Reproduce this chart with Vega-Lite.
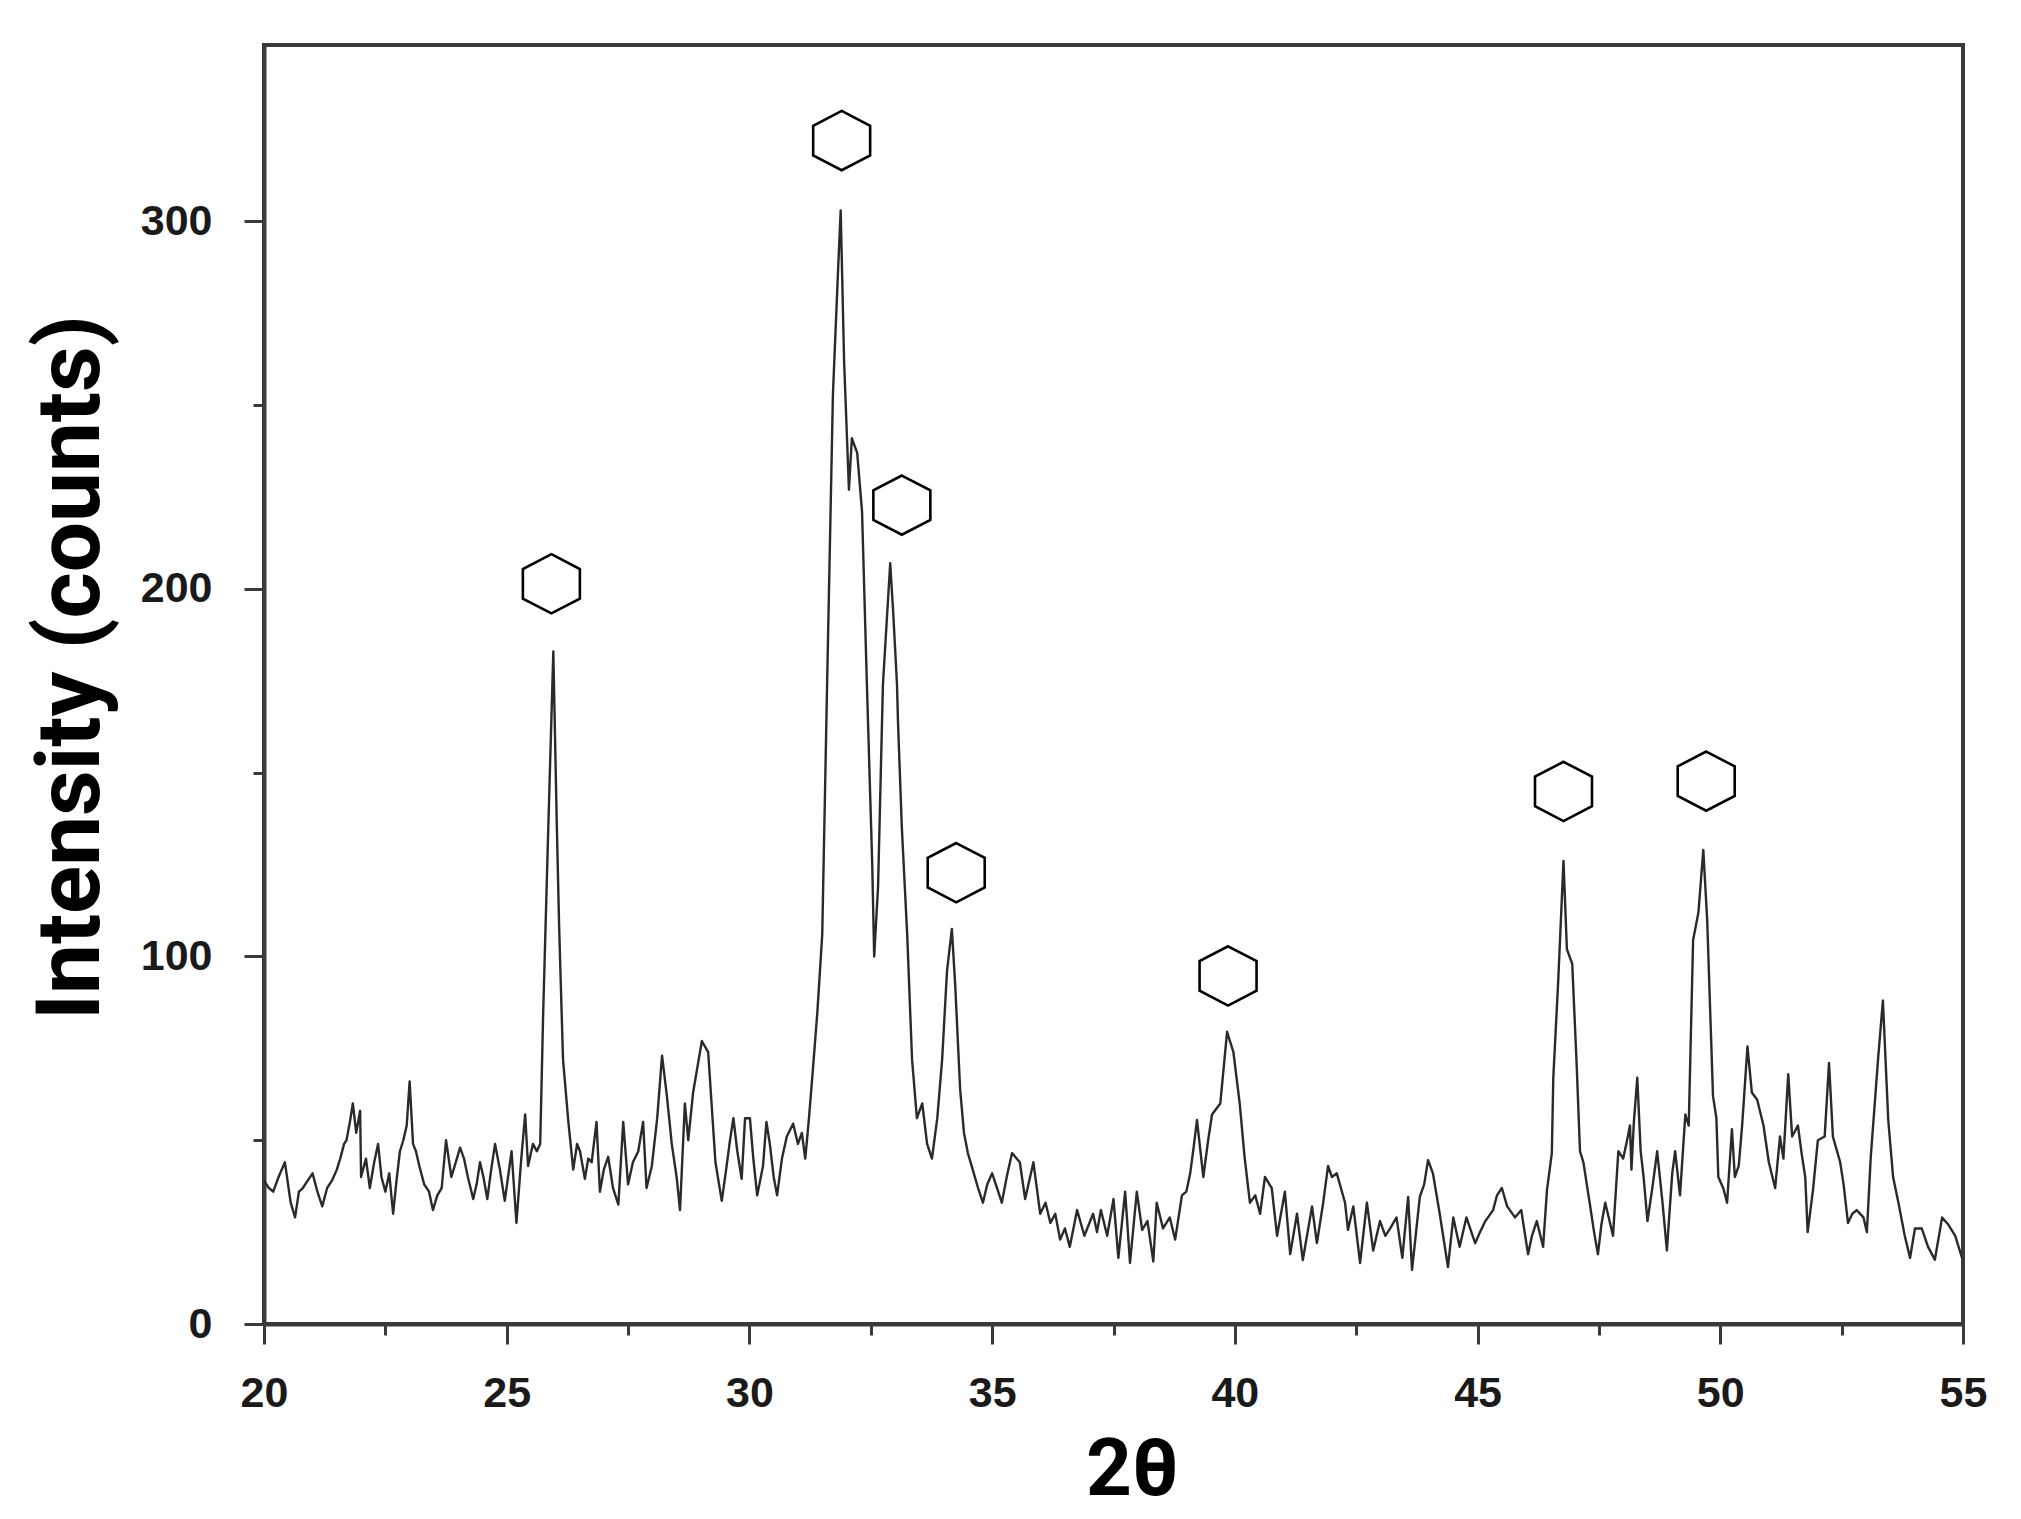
{
  "$schema": "https://vega.github.io/schema/vega-lite/v6.json",
  "autosize": {"type": "none"},
  "padding": {"left": 264, "top": 45, "right": 58, "bottom": 195},
  "width": 1699,
  "height": 1279,
  "background": "white",
  "config": {
    "view": {"stroke": "#3a3a3a", "strokeWidth": 4},
    "axis": {
      "domainColor": "#3a3a3a",
      "domainWidth": 4,
      "tickColor": "#3a3a3a",
      "tickWidth": 3,
      "grid": false,
      "labelFont": "Liberation Sans",
      "labelFontWeight": "bold",
      "labelFontSize": 43,
      "labelColor": "#1a1a1a",
      "titleFont": "Roboto",
      "titleFontWeight": "bold",
      "titleColor": "#000000"
    }
  },
  "datasets": {
    "xrd": [
      {"t":20.0,"i":39},{"t":20.1,"i":37},{"t":20.19,"i":36},{"t":20.3,"i":40},{"t":20.43,"i":44},{"t":20.55,"i":33},{"t":20.64,"i":29},{"t":20.72,"i":36},{"t":20.8,"i":37},{"t":20.9,"i":39},
      {"t":21.0,"i":41},{"t":21.1,"i":36},{"t":21.2,"i":32},{"t":21.3,"i":37},{"t":21.4,"i":39},{"t":21.5,"i":42},{"t":21.57,"i":45},{"t":21.65,"i":49},{"t":21.7,"i":50},{"t":21.77,"i":55},
      {"t":21.83,"i":60},{"t":21.9,"i":52},{"t":21.98,"i":58},{"t":22.0,"i":40},{"t":22.1,"i":45},{"t":22.18,"i":37},{"t":22.27,"i":44},{"t":22.35,"i":49},{"t":22.42,"i":40},{"t":22.5,"i":36},
      {"t":22.58,"i":41},{"t":22.66,"i":30},{"t":22.73,"i":39},{"t":22.8,"i":47},{"t":22.87,"i":50},{"t":22.94,"i":54},{"t":23.0,"i":66},{"t":23.07,"i":49},{"t":23.13,"i":47},{"t":23.2,"i":43},
      {"t":23.3,"i":38},{"t":23.4,"i":36},{"t":23.48,"i":31},{"t":23.57,"i":35},{"t":23.66,"i":37},{"t":23.75,"i":50},{"t":23.86,"i":40},{"t":23.95,"i":44},{"t":24.04,"i":48},{"t":24.12,"i":45},
      {"t":24.2,"i":40},{"t":24.31,"i":34},{"t":24.38,"i":38},{"t":24.45,"i":44},{"t":24.52,"i":40},{"t":24.6,"i":34},{"t":24.68,"i":42},{"t":24.76,"i":49},{"t":24.86,"i":42},{"t":24.96,"i":33.5},
      {"t":25.1,"i":47},{"t":25.2,"i":27.5},{"t":25.3,"i":45},{"t":25.38,"i":57},{"t":25.44,"i":43},{"t":25.54,"i":49},{"t":25.62,"i":47},{"t":25.69,"i":49},{"t":25.75,"i":84},{"t":25.85,"i":132},
      {"t":25.96,"i":183},{"t":26.03,"i":137},{"t":26.08,"i":108},{"t":26.16,"i":72},{"t":26.27,"i":55},{"t":26.37,"i":42},{"t":26.45,"i":49},{"t":26.51,"i":47},{"t":26.61,"i":39.5},{"t":26.68,"i":45},
      {"t":26.75,"i":44},{"t":26.85,"i":55},{"t":26.92,"i":36},{"t":27.0,"i":42},{"t":27.09,"i":45.5},{"t":27.19,"i":37},{"t":27.3,"i":32.5},{"t":27.4,"i":55},{"t":27.5,"i":38},{"t":27.6,"i":44},
      {"t":27.71,"i":47},{"t":27.81,"i":55},{"t":27.88,"i":37},{"t":27.99,"i":43},{"t":28.1,"i":56},{"t":28.2,"i":73},{"t":28.3,"i":62},{"t":28.4,"i":49},{"t":28.5,"i":40},{"t":28.57,"i":31},
      {"t":28.67,"i":60},{"t":28.74,"i":50},{"t":28.84,"i":63},{"t":28.93,"i":70},{"t":29.02,"i":77},{"t":29.15,"i":74},{"t":29.22,"i":60},{"t":29.3,"i":44},{"t":29.43,"i":33.5},{"t":29.52,"i":42},
      {"t":29.6,"i":50},{"t":29.67,"i":56},{"t":29.75,"i":47},{"t":29.84,"i":39.5},{"t":29.91,"i":56},{"t":30.01,"i":56},{"t":30.08,"i":45},{"t":30.16,"i":35},{"t":30.28,"i":43},{"t":30.35,"i":55},
      {"t":30.42,"i":49},{"t":30.5,"i":40},{"t":30.57,"i":35},{"t":30.67,"i":45},{"t":30.77,"i":51},{"t":30.9,"i":54.5},{"t":31.0,"i":49},{"t":31.08,"i":52},{"t":31.15,"i":45},{"t":31.22,"i":55},
      {"t":31.3,"i":68},{"t":31.4,"i":85},{"t":31.5,"i":106},{"t":31.6,"i":174},{"t":31.72,"i":253},{"t":31.83,"i":288},{"t":31.88,"i":303},{"t":31.95,"i":262},{"t":32.05,"i":227},{"t":32.11,"i":241},
      {"t":32.22,"i":237},{"t":32.32,"i":221},{"t":32.42,"i":174},{"t":32.53,"i":125},{"t":32.57,"i":100},{"t":32.65,"i":119},{"t":32.75,"i":174},{"t":32.9,"i":207},{"t":32.96,"i":194},{"t":33.04,"i":174},
      {"t":33.06,"i":164},{"t":33.14,"i":135},{"t":33.25,"i":106},{"t":33.35,"i":72},{"t":33.45,"i":56},{"t":33.56,"i":60},{"t":33.66,"i":49},{"t":33.76,"i":45},{"t":33.87,"i":56},{"t":33.97,"i":72},
      {"t":34.07,"i":96},{"t":34.17,"i":107.5},{"t":34.24,"i":92},{"t":34.34,"i":64},{"t":34.42,"i":52},{"t":34.5,"i":46.5},{"t":34.6,"i":42},{"t":34.71,"i":37},{"t":34.81,"i":33},{"t":34.9,"i":38},
      {"t":35.0,"i":41},{"t":35.2,"i":33},{"t":35.3,"i":40},{"t":35.41,"i":46.5},{"t":35.57,"i":44},{"t":35.68,"i":34},{"t":35.85,"i":44},{"t":35.99,"i":30},{"t":36.1,"i":33},{"t":36.2,"i":27.5},
      {"t":36.3,"i":30},{"t":36.4,"i":23},{"t":36.5,"i":26},{"t":36.6,"i":21},{"t":36.75,"i":31},{"t":36.9,"i":24},{"t":37.08,"i":30},{"t":37.16,"i":25},{"t":37.24,"i":31},{"t":37.37,"i":24},
      {"t":37.5,"i":34},{"t":37.6,"i":18},{"t":37.74,"i":36},{"t":37.84,"i":16.6},{"t":37.98,"i":36},{"t":38.09,"i":25.6},{"t":38.2,"i":28},{"t":38.32,"i":17},{"t":38.39,"i":33},{"t":38.52,"i":26},
      {"t":38.66,"i":29},{"t":38.77,"i":23},{"t":38.91,"i":35},{"t":39.0,"i":36},{"t":39.08,"i":41},{"t":39.15,"i":48},{"t":39.22,"i":55.5},{"t":39.35,"i":40},{"t":39.45,"i":50},{"t":39.53,"i":57},
      {"t":39.7,"i":60},{"t":39.84,"i":79.5},{"t":39.97,"i":74},{"t":40.1,"i":60},{"t":40.2,"i":45.5},{"t":40.31,"i":33},{"t":40.42,"i":35},{"t":40.52,"i":30},{"t":40.62,"i":40},{"t":40.76,"i":37},
      {"t":40.87,"i":24},{"t":41.03,"i":36},{"t":41.14,"i":19},{"t":41.28,"i":30},{"t":41.4,"i":17.4},{"t":41.59,"i":32},{"t":41.69,"i":22},{"t":41.82,"i":33},{"t":41.92,"i":43},{"t":42.0,"i":40},
      {"t":42.1,"i":41},{"t":42.27,"i":33},{"t":42.33,"i":25.6},{"t":42.44,"i":32},{"t":42.58,"i":16.6},{"t":42.72,"i":33},{"t":42.85,"i":20},{"t":42.99,"i":28},{"t":43.1,"i":24},{"t":43.2,"i":26},
      {"t":43.33,"i":29},{"t":43.45,"i":18},{"t":43.57,"i":34.6},{"t":43.65,"i":14.7},{"t":43.81,"i":34.6},{"t":43.9,"i":38},{"t":43.98,"i":44.6},{"t":44.08,"i":41},{"t":44.22,"i":30},{"t":44.39,"i":15.5},
      {"t":44.5,"i":29},{"t":44.63,"i":21},{"t":44.77,"i":29},{"t":44.95,"i":22},{"t":45.05,"i":25},{"t":45.16,"i":28},{"t":45.32,"i":31},{"t":45.4,"i":35},{"t":45.5,"i":37},{"t":45.61,"i":32},
      {"t":45.77,"i":29},{"t":45.9,"i":31},{"t":46.04,"i":19},{"t":46.12,"i":24},{"t":46.22,"i":28},{"t":46.35,"i":21},{"t":46.43,"i":36.5},{"t":46.53,"i":46.5},{"t":46.56,"i":67},{"t":46.66,"i":93},
      {"t":46.77,"i":126},{"t":46.84,"i":102},{"t":46.95,"i":98},{"t":47.04,"i":71},{"t":47.11,"i":47},{"t":47.18,"i":44},{"t":47.32,"i":32},{"t":47.4,"i":25},{"t":47.48,"i":19},{"t":47.55,"i":27},
      {"t":47.63,"i":33},{"t":47.79,"i":24},{"t":47.9,"i":47},{"t":48.0,"i":45},{"t":48.08,"i":50},{"t":48.14,"i":54},{"t":48.17,"i":42},{"t":48.22,"i":55},{"t":48.29,"i":67},{"t":48.36,"i":47},
      {"t":48.42,"i":40},{"t":48.5,"i":28},{"t":48.6,"i":37},{"t":48.7,"i":47},{"t":48.81,"i":33},{"t":48.9,"i":20},{"t":49.01,"i":41},{"t":49.07,"i":47},{"t":49.17,"i":35},{"t":49.28,"i":57},
      {"t":49.35,"i":54},{"t":49.44,"i":104.5},{"t":49.55,"i":112},{"t":49.65,"i":129},{"t":49.73,"i":110},{"t":49.85,"i":62},{"t":49.92,"i":56},{"t":49.96,"i":40},{"t":50.06,"i":37},{"t":50.14,"i":33},
      {"t":50.24,"i":53},{"t":50.3,"i":40},{"t":50.38,"i":43},{"t":50.45,"i":54},{"t":50.56,"i":75.5},{"t":50.65,"i":63},{"t":50.76,"i":61},{"t":50.89,"i":54},{"t":51.0,"i":44},{"t":51.13,"i":37},
      {"t":51.23,"i":51},{"t":51.3,"i":45},{"t":51.4,"i":68},{"t":51.48,"i":51},{"t":51.6,"i":54},{"t":51.68,"i":46},{"t":51.75,"i":40},{"t":51.8,"i":25},{"t":51.91,"i":36.5},{"t":52.01,"i":50},
      {"t":52.15,"i":51},{"t":52.24,"i":71},{"t":52.32,"i":51},{"t":52.47,"i":44},{"t":52.54,"i":38},{"t":52.63,"i":27.5},{"t":52.72,"i":30},{"t":52.81,"i":31},{"t":52.95,"i":29},{"t":53.02,"i":25},
      {"t":53.1,"i":45.5},{"t":53.25,"i":72},{"t":53.35,"i":88},{"t":53.46,"i":55.5},{"t":53.56,"i":40},{"t":53.67,"i":33},{"t":53.8,"i":24},{"t":53.91,"i":18},{"t":54.01,"i":26},{"t":54.15,"i":26},
      {"t":54.28,"i":21},{"t":54.42,"i":17.5},{"t":54.57,"i":29},{"t":54.7,"i":27},{"t":54.84,"i":24},{"t":54.98,"i":18}
    ],
    "marks": [
      {"t":25.92,"i":201.4},{"t":31.9,"i":322},{"t":33.14,"i":222.8},{"t":34.26,"i":122.8},{"t":39.86,"i":94.7},{"t":46.77,"i":144.9},{"t":49.71,"i":147.7}
    ]
  },
  "layer": [
    {
      "data": {"name": "xrd"},
      "mark": {"type": "line", "stroke": "#2a2a2a", "strokeWidth": 2.4, "strokeJoin": "round", "clip": true},
      "encoding": {
        "x": {
          "field": "t", "type": "quantitative",
          "scale": {"domain": [20, 55], "nice": false, "zero": false},
          "axis": {
            "title": "2θ",
            "values": [20, 22.5, 25, 27.5, 30, 32.5, 35, 37.5, 40, 42.5, 45, 47.5, 50, 52.5, 55],
            "labelExpr": "datum.value % 5 === 0 ? format(datum.value, 'd') : ''",
            "tickSize": {"condition": {"test": "datum.value % 5 === 0", "value": 20}, "value": 11},
            "labelPadding": 28,
            "labelFlush": false,
            "labelOverlap": false,
            "titleFontSize": 80,
            "titleX": 868,
            "titleY": 170,
            "titleAlign": "center",
            "titleBaseline": "alphabetic"
          }
        },
        "y": {
          "field": "i", "type": "quantitative",
          "scale": {"domain": [0, 348], "nice": false, "zero": true},
          "axis": {
            "title": "Intensity (counts)",
            "values": [0, 50, 100, 150, 200, 250, 300],
            "labelExpr": "datum.value % 100 === 0 ? format(datum.value, 'd') : ''",
            "tickSize": {"condition": {"test": "datum.value % 100 === 0", "value": 20}, "value": 11},
            "labelPadding": 32,
            "labelFlush": false,
            "labelOverlap": false,
            "titleFontSize": 89,
            "titleAngle": 270,
            "titleX": -166,
            "titleY": 622,
            "titleAlign": "center",
            "titleBaseline": "alphabetic"
          }
        }
      }
    },
    {
      "data": {"name": "marks"},
      "mark": {
        "type": "point",
        "shape": "M0,-0.9 L0.866,-0.45 L0.866,0.45 L0,0.9 L-0.866,0.45 L-0.866,-0.45 Z",
        "size": 4330,
        "filled": false,
        "color": "#000000",
        "strokeWidth": 2.6,
        "opacity": 1
      },
      "encoding": {
        "x": {"field": "t", "type": "quantitative"},
        "y": {"field": "i", "type": "quantitative"}
      }
    }
  ]
}
